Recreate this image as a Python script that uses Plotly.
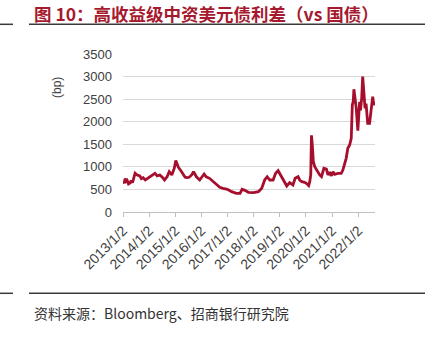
import plotly.graph_objects as go

dates = [
    "2013-01-02", "2013-01-20", "2013-02-01", "2013-02-15", "2013-03-01", "2013-03-20",
    "2013-04-10", "2013-04-25", "2013-05-15", "2013-06-05", "2013-06-20",
    "2013-07-20", "2013-08-25", "2013-09-15", "2013-10-10", "2013-11-10", "2013-12-10", "2014-01-15",
    "2014-02-20", "2014-03-25", "2014-04-25", "2014-06-01", "2014-07-05", "2014-08-05",
    "2014-09-10", "2014-10-10", "2014-11-15", "2014-12-20", "2015-01-10", "2015-02-15",
    "2015-03-20", "2015-05-20", "2015-06-20", "2015-07-15", "2015-08-20", "2015-09-15",
    "2015-10-25", "2015-12-10", "2016-02-10", "2016-03-10", "2016-04-25", "2016-06-15",
    "2016-08-01", "2016-09-15", "2016-11-01", "2016-12-31", "2017-02-28", "2017-05-05",
    "2017-06-25", "2017-07-25", "2017-09-01", "2017-10-20", "2017-12-31", "2018-03-10",
    "2018-04-25", "2018-06-05", "2018-07-10", "2018-08-15", "2018-10-01", "2018-11-05",
    "2018-12-10", "2019-01-10", "2019-02-28", "2019-04-10", "2019-05-20", "2019-07-05",
    "2019-08-05", "2019-09-15", "2019-10-08", "2019-11-06", "2019-12-15", "2020-01-08",
    "2020-02-10", "2020-02-25", "2020-03-10", "2020-03-20", "2020-04-01", "2020-04-15",
    "2020-05-05", "2020-06-10", "2020-07-13", "2020-08-07", "2020-09-10", "2020-10-15",
    "2020-11-06", "2020-11-28", "2020-12-24", "2021-01-15", "2021-02-07", "2021-03-25",
    "2021-05-10", "2021-06-02", "2021-06-25", "2021-07-18", "2021-08-10", "2021-09-05",
    "2021-09-27", "2021-10-05", "2021-10-12", "2021-10-25", "2021-11-03", "2021-11-13",
    "2021-12-06", "2021-12-28", "2022-01-12", "2022-01-22", "2022-02-03", "2022-02-20",
    "2022-03-06", "2022-03-18", "2022-04-08", "2022-04-22", "2022-05-15", "2022-06-10",
    "2022-07-02", "2022-07-24", "2022-08-06", "2022-08-25",
]
spread_bp = [
    680, 640, 740, 680, 700, 620,
    640, 700, 650, 760, 860,
    820, 800, 740, 760, 710, 740, 790,
    830, 857, 800, 820, 770, 709,
    780, 893, 820, 970, 1140, 990,
    920, 770, 760, 769, 820, 893,
    780, 709, 842, 780, 746, 671,
    598, 547, 525, 503, 450, 414,
    414, 503, 480, 436, 428, 450,
    525, 709, 782, 709, 709, 857,
    915, 820, 671, 576, 650, 598,
    746, 782, 709, 671, 657, 635,
    583, 671, 820, 1700, 1484, 1115,
    1004, 893, 820, 782, 968, 952,
    820, 880, 804, 893, 835, 857,
    857, 930, 1078, 1189, 1411, 1484,
    1632, 2000, 2370, 2450, 2720, 2600,
    2297, 1800, 2100, 2443, 2250, 2518,
    3000, 2665, 2297, 2400, 1965, 1965,
    2222, 2554, 2370, 2443,
]
tick_dates = ["2013-01-02", "2014-01-02", "2015-01-02", "2016-01-02", "2017-01-02",
              "2018-01-02", "2019-01-02", "2020-01-02", "2021-01-02", "2022-01-02"]
tick_labels = ["2013/1/2", "2014/1/2", "2015/1/2", "2016/1/2", "2017/1/2",
               "2018/1/2", "2019/1/2", "2020/1/2", "2021/1/2", "2022/1/2"]
y_ticks = [0, 500, 1000, 1500, 2000, 2500, 3000, 3500]

title_text = "图 10：高收益级中资美元债利差（vs 国债）"
source_text = "资料来源：Bloomberg、招商银行研究院"
unit_text = "(bp)"

W, H = 425, 337
L, R, T, B = 123, 50, 54, 125
pw, ph = W - L - R, H - T - B


def px_x(x):
    return (x - L) / pw


def px_y(y):
    return (H - B - y) / ph


fig = go.Figure()
fig.add_trace(go.Scatter(
    x=dates, y=spread_bp, mode="lines",
    line=dict(color="#A50F2D", width=2.8),
    showlegend=False, hoverinfo="skip",
))

font_family = "Arial, Liberation Sans, Noto Sans CJK SC"
fig.update_layout(
    width=W, height=H,
    margin=dict(l=L, r=R, t=T, b=B),
    paper_bgcolor="white", plot_bgcolor="white",
    font=dict(family=font_family, size=13, color="#404040"),
    xaxis=dict(
        type="date", range=["2013-01-02", "2022-08-25"],
        tickvals=tick_dates, ticktext=tick_labels, tickangle=-45,
        ticks="outside", ticklen=4, tickcolor="#bfbfbf",
        showline=True, linecolor="#bfbfbf", linewidth=1,
        showgrid=False, zeroline=False,
        tickfont=dict(size=14, color="#404040"),
    ),
    yaxis=dict(
        range=[0, 3500], tickvals=y_ticks,
        showgrid=True, gridcolor="#d9d9d9", gridwidth=1,
        zeroline=False, showline=False, ticks="",
        ticklabelstandoff=10,
        tickfont=dict(size=13, color="#404040"),
    ),
)

fig.add_annotation(
    text=unit_text, xref="paper", yref="paper",
    x=px_x(57), y=px_y(88), textangle=-90, showarrow=False,
    font=dict(size=12, color="#404040"), xanchor="center", yanchor="middle",
)
fig.add_annotation(
    text="<b>" + title_text + "</b>", xref="paper", yref="paper",
    x=px_x(32), y=px_y(13.5), showarrow=False, xanchor="left", yanchor="middle",
    font=dict(size=17.5, color="#A6192E", family="Noto Sans CJK SC"),
)
fig.add_annotation(
    text=source_text, xref="paper", yref="paper",
    x=px_x(32), y=px_y(313), showarrow=False, xanchor="left", yanchor="middle",
    font=dict(size=14, color="#333333", family="Noto Sans CJK SC"),
)

for yy in (24.3, 293.3):
    fig.add_shape(type="line", xref="paper", yref="paper",
                  x0=px_x(29), x1=px_x(425), y0=px_y(yy), y1=px_y(yy),
                  line=dict(color="#3a3a3a", width=1.5))
    fig.add_shape(type="line", xref="paper", yref="paper",
                  x0=px_x(0), x1=px_x(13), y0=px_y(yy), y1=px_y(yy),
                  line=dict(color="#3a3a3a", width=1.5))

fig.write_html("out.html")
